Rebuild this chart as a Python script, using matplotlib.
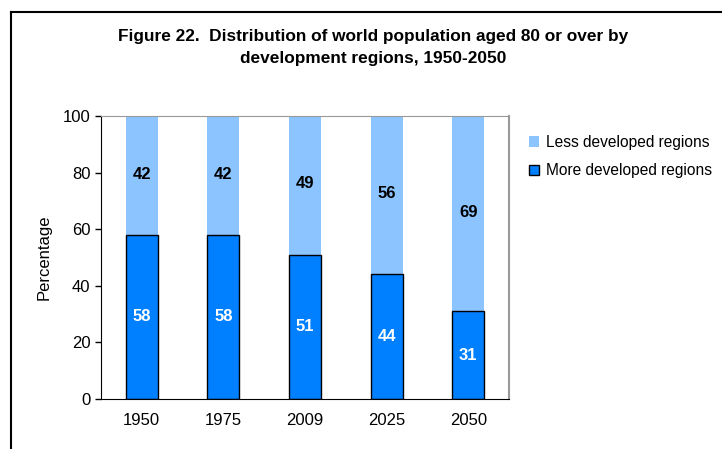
import numpy as np
import matplotlib.pyplot as plt
from matplotlib.patches import Rectangle
from matplotlib.lines import Line2D

plt.rcParams['font.family'] = ['Liberation Sans', 'DejaVu Sans']

# data
years = ['1950', '1975', '2009', '2025', '2050']
more_developed = [58, 58, 51, 44, 31]
less_developed = [42, 42, 49, 56, 69]

more_color = '#0080FF'
less_color = '#8CC4FF'

fig = plt.figure(figsize=(7.22, 4.49), dpi=100)

# outer frame of the original figure (runs off right and bottom)
fig.add_artist(Line2D([11/722, 11/722], [0, 1 - 12/449], color='black', lw=1.5, transform=fig.transFigure))
fig.add_artist(Line2D([11/722, 1], [1 - 12/449, 1 - 12/449], color='black', lw=1.5, transform=fig.transFigure))

fig.text(373/722, 1 - 36/449, 'Figure 22.  Distribution of world population aged 80 or over by',
         ha='center', va='center', fontsize=12.4, fontweight='bold')
fig.text(373/722, 1 - 59/449, 'development regions, 1950-2050',
         ha='center', va='center', fontsize=12.4, fontweight='bold')

ax = fig.add_axes([101/722, 1 - 399/449, 408/722, 283/449])
x = np.arange(len(years))
w = 0.39
b1 = ax.bar(x, more_developed, width=w, color=more_color, edgecolor='black', linewidth=1, label='More developed regions', zorder=2)
b2 = ax.bar(x, less_developed, width=w, bottom=more_developed, color=less_color, edgecolor='none', label='Less developed regions', zorder=1)

for i in range(len(years)):
    ax.text(x[i], more_developed[i] / 2, str(more_developed[i]), ha='center', va='center',
            color='white', fontsize=12, fontweight='bold', zorder=3)
    ax.text(x[i], more_developed[i] + less_developed[i] / 2 + 0.5, str(less_developed[i]), ha='center', va='center',
            color='black', fontsize=12, fontweight='bold', zorder=3)

ax.set_xlim(-0.5, 4.5)
ax.set_ylim(0, 100)
ax.set_yticks([0, 20, 40, 60, 80, 100])
ax.set_xticks(x)
ax.set_xticklabels(years)
ax.tick_params(axis='y', direction='out', length=4, labelsize=12, width=1)
ax.tick_params(axis='x', length=0, labelsize=12, pad=10)
ax.set_ylabel('Percentage', fontsize=12, labelpad=8)
ax.spines['top'].set_color('#999999')
ax.spines['right'].set_color('#999999')
ax.spines['right'].set_linewidth(1.5)

handles = [Rectangle((0, 0), 1, 1, facecolor=less_color, edgecolor='none'),
           Rectangle((0, 0), 1, 1, facecolor=more_color, edgecolor='black')]
fig.legend(handles, ['Less developed regions', 'More developed regions'],
           loc='upper left', bbox_to_anchor=(515/722, 1 - 121/449), frameon=False,
           fontsize=11.2, handlelength=0.65, handleheight=0.65, handletextpad=0.45, labelspacing=0.85)

fig.savefig('out.png', dpi=100)
